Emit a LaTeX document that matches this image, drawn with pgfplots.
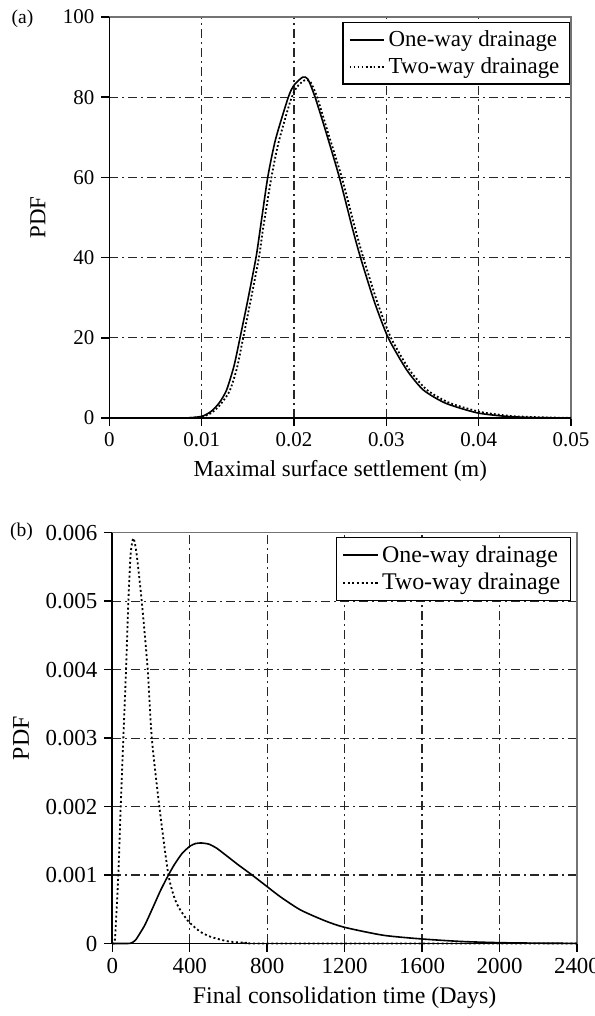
\documentclass[border=0pt]{standalone}
\usepackage{fontspec}
\setmainfont{Liberation Serif}
\usepackage{pgfplots}
\pgfplotsset{compat=1.18}
\begin{document}
\begin{tikzpicture}
\pgfplotsset{
  common/.style={
    scale only axis,
    clip=false,
    axis line style={black!55, line width=0.75bp},
    tick pos=left,
    tick align=outside,
    major tick length=4bp,
    major tick style={black, line width=0.75bp},
    grid=major,
    major grid style={black!85, line width=0.6bp, dash pattern=on 4.5bp off 2bp on 1bp off 2bp},
    scaled ticks=false,
    every axis y label/.style={at={(rel axis cs:0,0.5)}, rotate=90, anchor=center},
    every axis x label/.style={at={(rel axis cs:0.5,0)}, anchor=center},
    legend cell align=left,
  },
  solidline/.style={black, line width=0.8bp, smooth, tension=0.4},
}
% ---------------- panel (a)
\begin{axis}[common,
  at={(54.7bp,299bp)}, anchor=south west,
  width=230.8bp, height=200.5bp,
  xmin=0, xmax=0.05, ymin=0, ymax=100,
  xtick={0,0.01,0.02,0.03,0.04,0.05}, xticklabels={0,0.01,0.02,0.03,0.04,0.05},
  ytick={0,20,40,60,80,100}, yticklabels={0,20,40,60,80,100},
  ticklabel style={font=\fontsize{10.5}{12}\selectfont},
  label style={font=\fontsize{11.5}{13}\selectfont},
  xlabel={Maximal surface settlement (m)},
  ylabel={PDF},
  x label style={yshift=-26.5bp},
  y label style={yshift=35.7bp},
  legend style={at={(rel axis cs:0.998,0.988)}, anchor=north east, draw=black, line width=0.7bp,
    font=\fontsize{11.5}{13}\selectfont, fill=white},
]
\addplot[solidline] coordinates {
(0.007,0) (0.008,0) (0.009,0.1) (0.010,0.4) (0.0105,0.9) (0.011,1.6) (0.0115,2.7) (0.012,4.1)
(0.0127,7) (0.0135,13) (0.01415,20) (0.0150,29.5) (0.01588,40) (0.01633,47) (0.01715,60)
(0.0180,69.5) (0.01938,80) (0.0200,83) (0.02094,85) (0.0215,84.5) (0.02228,80) (0.0235,71)
(0.02491,60) (0.02636,47) (0.0272,40) (0.0287,29) (0.0302,20) (0.0322,12) (0.034,7)
(0.0364,3.7) (0.0398,1.3) (0.043,0.4) (0.046,0.1) (0.05,0)};
\addlegendentry{One-way drainage}
\addplot[black, line width=0.9bp, dash pattern=on 0.9bp off 1.1bp, smooth, tension=0.4] coordinates {
(0.007,0) (0.008,0) (0.009,0.05) (0.010,0.3) (0.0105,0.65) (0.011,1.2) (0.0115,2.1) (0.012,3.3)
(0.0130,6.6) (0.0138,12.3) (0.01445,19.5) (0.0153,29.3) (0.0162,40) (0.01663,47) (0.01751,59.5)
(0.0183,68.5) (0.0196,79) (0.0203,82.5) (0.0212,84.3) (0.0218,83.7) (0.0225,80) (0.0237,71)
(0.02517,60) (0.02665,47) (0.0275,40) (0.0290,29) (0.0305,20) (0.0325,12) (0.0344,7)
(0.0368,3.8) (0.0402,1.5) (0.0435,0.5) (0.047,0.15) (0.05,0.03)};
\addlegendentry{Two-way drainage}
\draw[black, line width=0.9bp] (rel axis cs:0,1) -- (rel axis cs:0,0) -- (rel axis cs:1,0);
\end{axis}
% ---------------- panel (b)
\begin{axis}[common,
  at={(56.15bp,36.25bp)}, anchor=south west,
  width=232.35bp, height=205.4bp,
  xmin=0, xmax=2400, ymin=0, ymax=0.006,
  xtick={0,400,800,1200,1600,2000,2400}, xticklabels={0,400,800,1200,1600,2000,2400},
  ytick={0,0.001,0.002,0.003,0.004,0.005,0.006}, yticklabels={0,0.001,0.002,0.003,0.004,0.005,0.006},
  ticklabel style={font=\fontsize{11.5}{13}\selectfont},
  label style={font=\fontsize{12}{14}\selectfont},
  xlabel={Final consolidation time (Days)},
  ylabel={PDF},
  x label style={yshift=-27.3bp},
  y label style={yshift=45.6bp},
  legend style={at={(rel axis cs:0.987,0.99)}, anchor=north east, draw=black, line width=0.7bp,
    font=\fontsize{12}{14}\selectfont, fill=white},
]
\addplot[solidline] coordinates {
(0,0) (80,0) (100,0.00001) (120,0.00005) (143,0.00015) (170,0.00028) (212,0.00054) (250,0.00078)
(290,0.001) (320,0.00115) (359,0.00131) (400,0.00142) (430,0.00146) (460,0.001468) (500,0.00145)
(540,0.00139) (600,0.00126) (650,0.00115) (722,0.001) (800,0.00083) (869,0.00068)
(972,0.00049) (1100,0.00033) (1200,0.000236) (1400,0.00012) (1600,0.000066) (1800,0.00003)
(2000,0.000012) (2200,0.000005) (2400,0.000002)};
\addlegendentry{One-way drainage}
\addplot[black, line width=0.9bp, dash pattern=on 1bp off 1.3bp, smooth, tension=0.4] coordinates {
(0,0) (5,0) (14,0.00008) (31,0.001) (43.5,0.002) (57,0.003) (71,0.004) (83,0.005) (95,0.0057)
(109,0.00592) (125,0.0057) (152,0.005) (183,0.004) (204,0.003) (243,0.002) (290,0.001)
(330,0.0006) (388,0.00034) (450,0.00018) (506,0.0001) (600,0.00003) (700,0.00001) (800,0) (2400,0)};
\addlegendentry{Two-way drainage}
\draw[black, line width=0.9bp] (rel axis cs:0,1) -- (rel axis cs:0,0) -- (rel axis cs:1,0);
\end{axis}
\node[font=\fontsize{9.8}{11}\selectfont] at (11.25bp,498.5bp) {(a)};
\node[font=\fontsize{9.8}{11}\selectfont] at (10.8bp,242.2bp) {(b)};
\pgfresetboundingbox
\path (0,0) rectangle (297.5bp,508bp);
\end{tikzpicture}
\end{document}
